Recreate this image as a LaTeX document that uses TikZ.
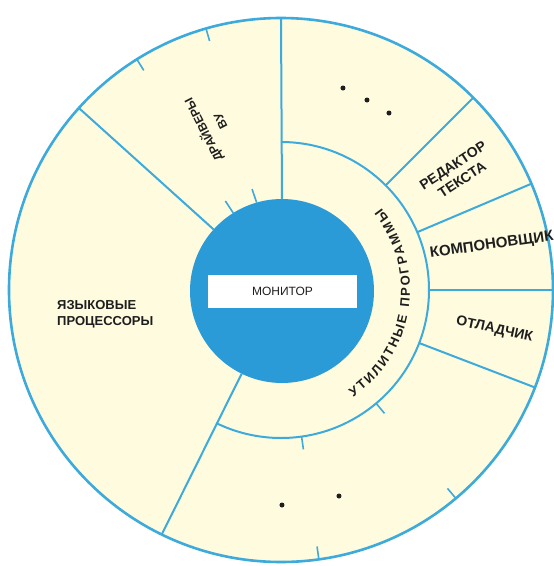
\documentclass[tikz,border=0pt]{standalone}
\usepackage{fontspec}
\setmainfont{Liberation Sans}
\usetikzlibrary{decorations.text}

\definecolor{rimblue}{HTML}{3DAADC}
\definecolor{discblue}{HTML}{2B9BD8}
\definecolor{paper}{HTML}{FFFBDF}
\definecolor{ink}{HTML}{1E1E1E}

\newcommand{\lblfont}{\fontsize{13}{16}\selectfont\bfseries}
\newcommand{\bigfont}{\fontsize{14}{17}\selectfont\bfseries}

\tikzset{
  rim/.style={draw=rimblue, line width=2.6pt},
  spoke/.style={draw=rimblue, line width=2pt},
  tickmark/.style={draw=rimblue, line width=1.6pt},
  lbl/.style={text=ink, font=\lblfont, inner sep=0pt},
  dot/.style={circle, fill=ink, inner sep=0pt, minimum size=5pt},
}

\begin{document}
\begin{tikzpicture}[x=1pt, y=1pt]
\useasboundingbox[fill=white] (-281,-276) rectangle (273,290);

\node[circle, fill=paper, rim, minimum size=544pt, inner sep=0pt, outer sep=0pt] (outer) at (0,0) {};
\node[circle, minimum size=296pt, inner sep=0pt, outer sep=0pt] (ring) at (0,0) {};
\node[circle, fill=discblue, minimum size=184pt, inner sep=0pt, outer sep=0pt] (disc) at (1,-1) {};

% utility ring
\draw[spoke] (ring.90) arc[start angle=90, end angle=-116, radius=148];

% main sectors
\foreach \a in {90,138,244}
  \draw[spoke] (disc.\a) -- (outer.\a);
\foreach \a in {45,23,0,-21}
  \draw[spoke] (ring.\a) -- (outer.\a);

% ticks
\foreach \a in {106,122} {
  \draw[tickmark] (outer.\a) -- (\a:259);
  \draw[tickmark] (disc.\a) -- (\a:105);
}
\foreach \a in {-50,-82} {
  \draw[tickmark] (outer.\a) -- (\a:259);
  \draw[tickmark] (ring.\a) -- (\a:161);
}

\node[fill=white, minimum width=149pt, minimum height=33pt, inner sep=0pt,
  text=ink, font=\fontsize{12}{14}\selectfont] (monitor) at (1.5,-1.5) {МОНИТОР};

\node[lbl, font=\fontsize{12}{19}\selectfont\bfseries, rotate=117, align=center] (drivers) at (-70,164) {ДРАЙВЕРЫ\\ВУ};
\node[lbl, align=left, anchor=west] (langproc) at (-224,-24) {ЯЗЫКОВЫЕ\\ПРОЦЕССОРЫ};
\node[lbl, font=\bigfont, rotate=33, align=center] (editor) at (176.5,117.5) {РЕДАКТОР\\ТЕКСТА};
\node[lbl, font=\fontsize{15}{18}\selectfont\bfseries, rotate=8, anchor=west] (linker) at (149,36) {КОМПОНОВЩИК};
\node[lbl, font=\bigfont, rotate=-12] (debugger) at (213.5,-39.5) {ОТЛАДЧИК};

\path[decorate, decoration={text along path, text color=ink,
  text={|\lblfont|УТИЛИТНЫЕ ПРОГРАММЫ}, text align={fit to path}}]
  (-56:129) arc[start angle=-56, end angle=39, radius=129];

\foreach \p [count=\i] in {(62,202),(86,190),(108,177)}
  \node[dot] (topdot\i) at \p {};
\foreach \p [count=\i] in {(1,-215),(58,-206)}
  \node[dot] (botdot\i) at \p {};
\end{tikzpicture}
\end{document}
